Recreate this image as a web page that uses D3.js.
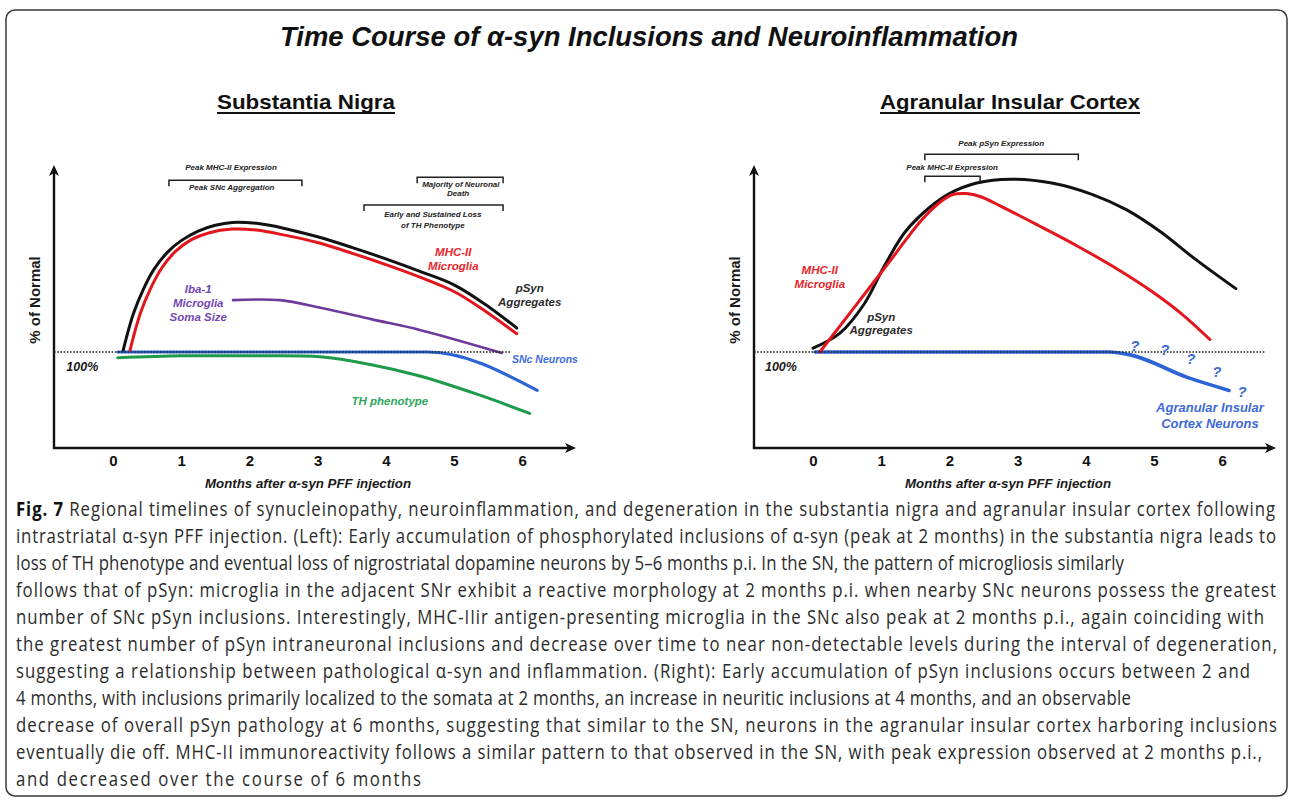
<!DOCTYPE html>
<html><head><meta charset="utf-8">
<script src="https://cdn.jsdelivr.net/npm/d3@7/dist/d3.min.js"></script>
<style>body{margin:0;background:#fff;} svg{display:block;}</style>
</head><body>
<svg id="c" width="1292" height="801"></svg>
<script>
// ---------- data ----------
const months = [0,1,2,3,4,5,6];

// Substantia Nigra series: [month, % of normal (100 = baseline)]
const snPSyn   = [[0.15,102],[0.30,140],[0.45,166],[0.60,186],[0.80,204],[1.00,216],[1.25,226],[1.50,232],[1.75,235],[2.10,234],[2.50,229],[3.00,220],[3.50,209],[4.00,197],[4.50,184],[5.00,170],[5.45,150],[5.92,125]];
const snMHC    = [[0.25,102],[0.40,140],[0.55,166],[0.72,188],[0.92,205],[1.15,217],[1.40,224],[1.75,228],[2.10,227],[2.50,222],[3.00,214],[3.50,203],[4.00,191],[4.50,178],[5.00,163],[5.45,143],[5.92,119]];
const snIba    = [[1.76,154],[2.45,154],[3.04,146],[3.80,134],[4.50,123],[5.70,99]];
const snNeur   = [[0.07,100],[4.62,100],[6.22,60]];
const snTH     = [[0.07,94],[1.00,96],[2.00,96],[3.04,95],[3.77,87],[4.50,75],[5.38,55],[6.11,36]];

// Agranular Insular Cortex series
const aicPSyn  = [[0,104],[0.40,120],[0.75,150],[1.05,190],[1.35,225],[1.70,250],[2.00,265],[2.40,276],[2.90,280],[3.50,276],[4.10,264],[4.60,248],[5.10,225],[5.60,197],[6.20,166]];
const aicMHC   = [[0.10,100],[0.60,146],[1.10,192],[1.60,238],[1.90,258],[2.05,264],[2.25,265],[2.45,262],[2.75,252],[3.30,232],[3.86,211],[4.40,189],[4.97,163],[5.40,140],[5.82,113]];
const aicNeur  = [[0.03,100],[4.35,100],[4.65,97],[5.51,73],[6.10,60]];

// brackets [startMonth, endMonth, level]
const snBrackets  = [[0.82,2.77,279],[4.46,5.72,282],[3.68,5.72,253]];
const aicBrackets = [[1.64,3.89,306],[1.64,2.45,283]];

// labels: [text, month, level, series]
const snLabels = [
  ['Peak MHC-II Expression',1.73,292,'note'],
  ['Peak SNc Aggregation',1.74,272,'note'],
  ['Majority of Neuronal',5.10,275,'note'],
  ['Death',5.06,265,'note'],
  ['Early and Sustained Loss',4.69,244,'note'],
  ['of TH Phenotype',4.69,232,'note'],
  ['MHC-II',4.99,204,'mhc'],['Microglia',4.99,190,'mhc'],
  ['pSyn',6.11,167,'psyn'],['Aggregates',6.11,152,'psyn'],
  ['Iba-1',1.25,166,'iba'],['Microglia',1.25,151,'iba'],['Soma Size',1.25,137,'iba'],
  ['TH phenotype',4.06,49,'th'],
  ['SNc Neurons',5.85,92,'neur'],
  ['100%',-0.45,85,'pct']
];
const aicLabels = [
  ['Peak pSyn Expression',2.76,318,'note'],
  ['Peak MHC-II Expression',2.04,293,'note'],
  ['MHC-II',0.10,185,'mhc'],['Microglia',0.10,171,'mhc'],
  ['pSyn',1.0,136,'psyn'],['Aggregates',1.0,123,'psyn'],
  ['Agranular Insular',5.82,42,'neurBig'],['Cortex Neurons',5.82,26,'neurBig'],
  ['?',4.72,107,'q'],['?',5.16,102,'q'],['?',5.54,93,'q'],['?',5.92,79,'q'],['?',6.29,59,'q'],
  ['100%',-0.47,85,'pct']
];

const titleText = 'Time Course of α-syn Inclusions and Neuroinflammation';
const panelTitles = ['Substantia Nigra','Agranular Insular Cortex'];
const xLabel = 'Months after α-syn PFF injection';
const yLabel = '% of Normal';

const captionLines = [
  ['Fig. 7',' Regional timelines of synucleinopathy, neuroinflammation, and degeneration in the substantia nigra and agranular insular cortex following'],
  ['','intrastriatal α-syn PFF injection. (Left): Early accumulation of phosphorylated inclusions of α-syn (peak at 2 months) in the substantia nigra leads to'],
  ['','loss of TH phenotype and eventual loss of nigrostriatal dopamine neurons by 5–6 months p.i. In the SN, the pattern of microgliosis similarly'],
  ['','follows that of pSyn: microglia in the adjacent SNr exhibit a reactive morphology at 2 months p.i. when nearby SNc neurons possess the greatest'],
  ['','number of SNc pSyn inclusions. Interestingly, MHC-IIir antigen-presenting microglia in the SNc also peak at 2 months p.i., again coinciding with'],
  ['','the greatest number of pSyn intraneuronal inclusions and decrease over time to near non-detectable levels during the interval of degeneration,'],
  ['','suggesting a relationship between pathological α-syn and inflammation. (Right): Early accumulation of pSyn inclusions occurs between 2 and'],
  ['','4 months, with inclusions primarily localized to the somata at 2 months, an increase in neuritic inclusions at 4 months, and an observable'],
  ['','decrease of overall pSyn pathology at 6 months, suggesting that similar to the SN, neurons in the agranular insular cortex harboring inclusions'],
  ['','eventually die off. MHC-II immunoreactivity follows a similar pattern to that observed in the SN, with peak expression observed at 2 months p.i.,'],
  ['','and decreased over the course of 6 months']
];
const captionWidths = [1259,1260,1108,1260,1248,1261,1234,1115,1261,1246,405];

// ---------- drawing ----------
const svg = d3.select('#c');
const ARIAL = "'Liberation Sans', Arial, Helvetica, sans-serif";
const NARROW = "'Liberation Sans Narrow', 'Arial Narrow', 'Liberation Sans', Arial, sans-serif";

svg.append('rect').attr('x',6).attr('y',10).attr('width',1281).attr('height',786)
  .attr('rx',9).attr('fill','#fff').attr('stroke','#3a3a3a').attr('stroke-width',1.5);

svg.append('text').attr('x',649).attr('y',46).attr('text-anchor','middle')
  .attr('font-family',NARROW).attr('font-weight','bold').attr('font-style','italic')
  .attr('font-size',27).attr('fill','#111')
  .attr('textLength',738).attr('lengthAdjust','spacingAndGlyphs').text(titleText);

const x = d3.scaleLinear().domain([0,6]).range([113,522.2]);
const y = d3.scaleLinear().domain([0,100]).range([448,352]);
const smooth = d3.line().x(d=>x(d[0])).y(d=>y(d[1])).curve(d3.curveCatmullRom.alpha(0.5));
const straight = d3.line().x(d=>x(d[0])).y(d=>y(d[1])).curve(d3.curveMonotoneX);

const colors = {psyn:'#111', mhc:'#e4161d', iba:'#6d3a9c', neur:'#2c64d6', th:'#1f9a4b'};
const labelStyle = {
  note:{size:8, fill:'#222'},
  mhc:{size:11.5, fill:'#e8262b'},
  psyn:{size:11.5, fill:'#2a2a2a'},
  iba:{size:11.5, fill:'#7248b4'},
  th:{size:11.5, fill:'#2ba65a'},
  neur:{size:10.5, fill:'#3f6be0', anchor:'start'},
  neurBig:{size:13, fill:'#3d6ad8'},
  q:{size:15, fill:'#3a6bd6'},
  pct:{size:12.5, fill:'#1a1a1a'}
};

function panel(offset, titleW, series, brackets, labels){
  const g = svg.append('g').attr('transform',`translate(${offset},0)`);
  const ax0 = 54, axTop = 165, axRight = 576, base = y(0);

  const tCx = offset===0 ? 306 : 310;
  g.append('text').attr('x',tCx).attr('y',109).attr('text-anchor','middle')
    .attr('font-family',ARIAL).attr('font-weight','bold').attr('font-size',21).attr('fill','#111')
    .attr('textLength',titleW).attr('lengthAdjust','spacingAndGlyphs').text(panelTitles[offset===0?0:1]);
  g.append('line').attr('x1',tCx-titleW/2).attr('x2',tCx+titleW/2).attr('y1',113).attr('y2',113)
    .attr('stroke','#111').attr('stroke-width',1.8);

  g.append('path').attr('d',`M${ax0},${axTop+4}V${base}H${axRight-4}`)
    .attr('fill','none').attr('stroke','#111').attr('stroke-width',2.4);
  g.append('path').attr('d',`M${ax0-5},${axTop+11}L${ax0},${axTop}L${ax0+5},${axTop+11}L${ax0},${axTop+8}Z`).attr('fill','#111');
  g.append('path').attr('d',`M${axRight-11},${base-5}L${axRight},${base}L${axRight-11},${base+5}L${axRight-8},${base}Z`).attr('fill','#111');

  const axis = d3.axisBottom(x).tickValues(months).tickSize(0).tickPadding(7).tickFormat(d3.format('d'));
  const ag = g.append('g').attr('transform',`translate(0,${base})`).call(axis);
  ag.select('.domain').remove();
  ag.attr('font-family',ARIAL).attr('font-size',15).attr('font-weight','bold');
  ag.selectAll('text').attr('fill','#111');

  g.append('text').attr('x',308).attr('y',488).attr('text-anchor','middle')
    .attr('font-family',ARIAL).attr('font-weight','bold').attr('font-style','italic').attr('font-size',12.5)
    .attr('fill','#1a1a1a').attr('textLength',206).attr('lengthAdjust','spacingAndGlyphs').text(xLabel);
  g.append('text').attr('transform','translate(40,300) rotate(-90)').attr('text-anchor','middle')
    .attr('font-family',ARIAL).attr('font-weight','bold').attr('font-size',15).attr('fill','#1a1a1a').text(yLabel);

  series.forEach(s=>{
    g.append('path').datum(s.data).attr('d', s.linear ? straight(s.data) : smooth(s.data))
      .attr('fill','none').attr('stroke',colors[s.key]).attr('stroke-width',s.w||3)
      .attr('stroke-linecap','round').attr('stroke-linejoin','round');
  });

  const dotEnd = offset===0 ? 510 : 1265-offset;
  g.append('line').attr('x1',ax0).attr('x2',dotEnd).attr('y1',y(100)).attr('y2',y(100))
    .attr('stroke','#222').attr('stroke-width',1.6).attr('stroke-dasharray','1.6,1.6');

  brackets.forEach(b=>{
    const x0=x(b[0]), x1=x(b[1]), yy=y(b[2]);
    g.append('path').attr('d',`M${x0},${yy+6}V${yy}H${x1}V${yy+6}`)
      .attr('fill','none').attr('stroke','#222').attr('stroke-width',1.5);
  });

  labels.forEach(l=>{
    const st = labelStyle[l[3]];
    g.append('text').attr('x',x(l[1])).attr('y',y(l[2])).attr('dy','0.35em')
      .attr('text-anchor',st.anchor||'middle')
      .attr('font-family',ARIAL).attr('font-weight','bold').attr('font-style','italic')
      .attr('font-size',st.size).attr('fill',st.fill).text(l[0]);
  });
}

panel(0,178,[
  {key:'th',data:snTH},
  {key:'neur',data:snNeur,linear:true},
  {key:'iba',data:snIba,w:2.6},
  {key:'mhc',data:snMHC},
  {key:'psyn',data:snPSyn}
], snBrackets, snLabels);

panel(700,260,[
  {key:'neur',data:aicNeur,w:3.6,linear:true},
  {key:'psyn',data:aicPSyn},
  {key:'mhc',data:aicMHC}
], aicBrackets, aicLabels);

// caption: uniformly condensed glyphs, spacing adjusted per line
const SX = 0.86;
const cap = svg.append('g').attr('transform',`translate(16,0) scale(${SX},1)`)
  .attr('font-family',"'Open Sans','Noto Sans',sans-serif").attr('font-size',19.5).attr('fill','#2b2b2b');
captionLines.forEach((ln,i)=>{
  const t = cap.append('text').attr('x',0).attr('y',516+27*i)
    .attr('textLength',captionWidths[i]/SX).attr('lengthAdjust','spacing');
  if(ln[0]) t.append('tspan').attr('font-weight','bold').attr('fill','#111').text(ln[0]);
  t.append('tspan').text(ln[1]);
});
</script>
</body></html>
